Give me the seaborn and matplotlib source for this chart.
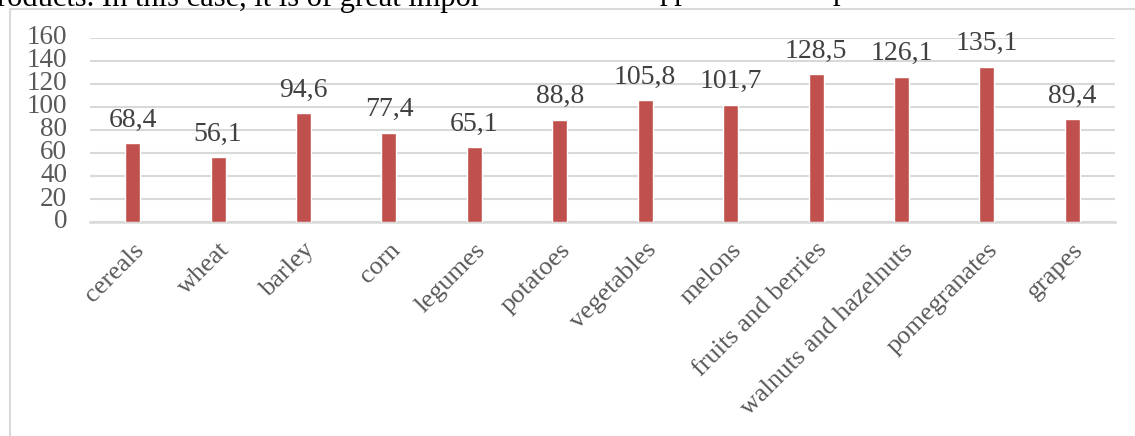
import matplotlib.pyplot as plt
import matplotlib.patches as patches
import pandas as pd
import seaborn as sns

categories = ['cereals', 'wheat', 'barley', 'corn', 'legumes', 'potatoes',
              'vegetables', 'melons', 'fruits and berries',
              'walnuts and hazelnuts', 'pomegranates', 'grapes']
values = [68.4, 56.1, 94.6, 77.4, 65.1, 88.8, 105.8, 101.7, 128.5, 126.1, 135.1, 89.4]
y_ticks = [0, 20, 40, 60, 80, 100, 120, 140, 160]


def main():
    df = pd.DataFrame({'product': categories, 'value': values})

    sns.set_theme(style='white')
    plt.rcParams['font.family'] = ['Liberation Serif', 'DejaVu Serif']

    fig = plt.figure(figsize=(11.35, 4.36), dpi=100)
    W, H = 1135, 436
    ax = fig.add_axes([90 / W, 1 - 222 / H, (1115 - 90) / W, (222 - 38) / H])

    # chart frame (only left and top edges are visible in the crop)
    frame = patches.Rectangle((10 / W, -0.2), 1.5, 1.2 - 9 / H, transform=fig.transFigure,
                              facecolor='none', edgecolor='#D9D9D9', lw=1.5, clip_on=False)
    fig.add_artist(frame)

    # leftover page text above the chart, cut by the image edge
    fig.text(-3 / W, 1 - 6 / H, 'roducts. In this case, it is of great impor',
             fontsize=22, color='black', va='baseline', ha='left')
    fig.text(660 / W, 1 + 1 / H, 'pp', fontsize=22, color='black', va='baseline', ha='left')
    fig.text(833 / W, 1 + 1 / H, 'p', fontsize=22, color='black', va='baseline', ha='left')

    sns.barplot(data=df, x='product', y='value', color='#C0504D', saturation=1,
                width=0.175, ax=ax, zorder=3)

    ax.set_ylim(0, 160)
    ax.set_xlim(-0.5, len(categories) - 0.5)
    ax.set_yticks(y_ticks)
    ax.yaxis.grid(True, color='#D9D9D9', linewidth=1.5, zorder=0)
    ax.set_axisbelow(True)
    for s in ['top', 'right', 'left']:
        ax.spines[s].set_visible(False)
    ax.spines['bottom'].set_color('#D9D9D9')
    ax.spines['bottom'].set_linewidth(1.8)
    ax.set_xlabel('')
    ax.set_ylabel('')
    ax.tick_params(axis='y', length=0, pad=16.5, labelsize=19.5, labelcolor='#595959')
    ax.tick_params(axis='x', length=0, pad=12, labelsize=19, labelcolor='#595959')
    for lbl in ax.get_yticklabels():
        lbl.set_verticalalignment('center')
    plt.setp(ax.get_xticklabels(), rotation=45, ha='right', va='top', rotation_mode='anchor')

    for i, v in enumerate(values):
        ax.annotate(f'{v:.1f}'.replace('.', ','), (i, v), xytext=(0, 12),
                    textcoords='offset points', ha='center', va='baseline',
                    fontsize=20, color='#404040')

    fig.savefig('out.png', dpi=100)


if __name__ == "__main__":
    main()
